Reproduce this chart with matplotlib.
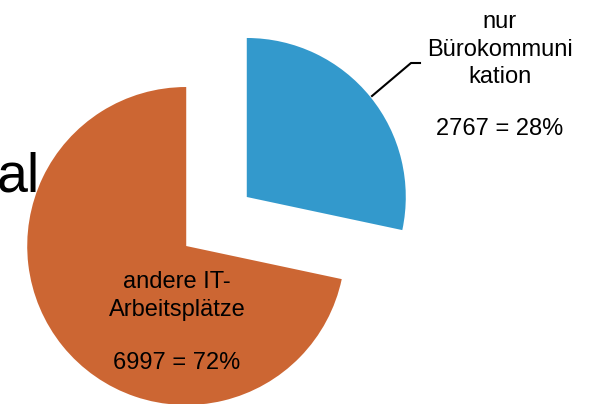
import matplotlib
matplotlib.use("Agg")
import matplotlib.pyplot as plt
from matplotlib.lines import Line2D

W, H = 591, 404

labels = [["nur", "Bürokommuni", "kation"], ["andere IT-", "Arbeitsplätze"]]
counts = [2767, 6997]
shares = [28, 72]
colors = ["#3399CC", "#CC6633"]

plt.rcParams["font.family"] = ["Liberation Sans", "DejaVu Sans"]

fig = plt.figure(figsize=(W / 100, H / 100), dpi=100)
ax = fig.add_axes([0, 0, 1, 1])

# pie in radius units, 1 unit = 159 px; pie centre at pixel (216.5, 221.5)
R = 159.0
cx, cy = 216.5, 221.5
ax.pie(counts, colors=colors, startangle=90, counterclock=False,
       explode=[0.245, 0.245], radius=1.0, center=(0, 0),
       wedgeprops={"linewidth": 0})
ax.set_xlim(-cx / R, (W - cx) / R)
ax.set_ylim(-(H - cy) / R, cy / R)
ax.set_aspect("auto")
ax.axis("off")


def fx(x):
    return x / W


def fy(y):
    return 1 - y / H


def put_label(x, baselines, lines):
    for yb, line in zip(baselines, lines):
        fig.text(fx(x), fy(yb), line, fontsize=17, ha="center", va="baseline")


# leftover of a title cut off at the left border
fig.text(fx(-3), fy(192), "al", fontsize=40, ha="left", va="baseline", color="black")

put_label(500, [28, 56, 83, 135],
          labels[0] + [f"{counts[0]} = {shares[0]}%"])
put_label(177, [288, 316, 369],
          labels[1] + [f"{counts[1]} = {shares[1]}%"])

fig.add_artist(Line2D([fx(372), fx(411), fx(420)], [fy(96), fy(63), fy(63)],
                      transform=fig.transFigure, color="black", linewidth=1.5))

fig.savefig("out.png", dpi=100)
